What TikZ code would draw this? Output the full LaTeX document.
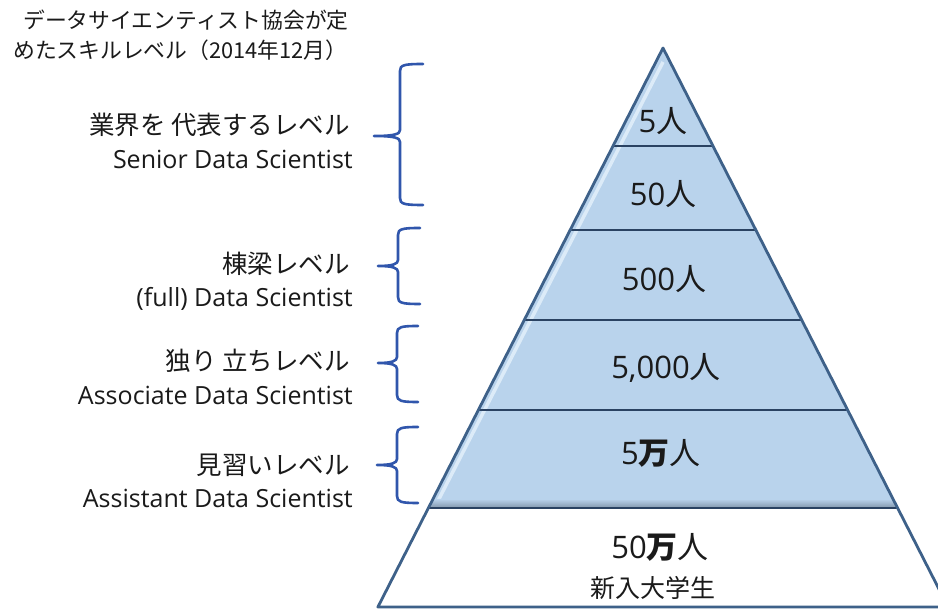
\documentclass[tikz,border=0pt]{standalone}
\usepackage{fontspec}
\setmainfont{Open Sans}
\newfontfamily\jp{Noto Sans CJK JP}
\usetikzlibrary{calc}
\definecolor{braceblue}{HTML}{3056AC}
\definecolor{pyrfill}{HTML}{B9D3EC}
\definecolor{pyrhi}{HTML}{DCEBF8}
\definecolor{pyrline}{HTML}{3E6189}
\definecolor{divline}{HTML}{2A4262}
\definecolor{pyrshade}{HTML}{8296AC}
\definecolor{txt}{HTML}{1A1A1A}
\tikzset{
  brace/.style={draw=braceblue, line width=2.6pt, line cap=round, line join=round},
  jplabel/.style={anchor=east, inner sep=0pt, text=txt, font=\jp\fontsize{25.5}{30}\selectfont},
  enlabel/.style={anchor=base east, inner sep=0pt, text=txt, font=\fontsize{25}{30}\selectfont},
  titletext/.style={anchor=west, inner sep=0pt, text=txt, font=\jp\fontsize{21.8}{26}\selectfont},
  count/.style={inner sep=0pt, text=txt, font=\fontsize{31}{36}\selectfont},
  sublabel/.style={inner sep=0pt, text=txt, font=\jp\fontsize{25}{30}\selectfont},
  pyredge/.style={draw=pyrline, line width=2.8pt, line join=round},
  divider/.style={draw=divline, line width=2.8pt},
}
\begin{document}
\begin{tikzpicture}[x=1pt,y=-1pt]
\clip (0,0) rectangle (938,609);
\fill[white] (0,0) rectangle (938,609);

% pyramid corner points
\coordinate (A)  at (663,48);
\coordinate (L1) at (613,146);   \coordinate (R1) at (713,146);
\coordinate (L2) at (570.2,230); \coordinate (R2) at (755.8,230);
\coordinate (L3) at (524.3,320); \coordinate (R3) at (801.7,320);
\coordinate (L4) at (478.4,410); \coordinate (R4) at (847.6,410);
\coordinate (L5) at (428.4,508); \coordinate (R5) at (897.6,508);
\coordinate (L6) at (377.9,607); \coordinate (R6) at (948.1,607);

% blue part
\fill[pyrfill] (A) -- (L5) -- (R5) -- cycle;
% bevel highlight along the left edge
\draw[pyrhi, line width=3.5pt] ($(A)+(0,14)$) -- ($(L5)+(9,-6)$);
% bottom shadow of the blue part
\shade[top color=pyrfill, bottom color=pyrshade] ($(L5)+(4,-9)$) -- ($(R5)+(-4,-9)$) -- (R5) -- (L5) -- cycle;
% white base
\fill[white] (L5) -- (L6) -- (R6) -- (R5) -- cycle;

% dividers
\draw[divider] (L1) -- (R1);
\draw[divider] (L2) -- (R2);
\draw[divider] (L3) -- (R3);
\draw[divider] (L4) -- (R4);
\draw[divider] (L5) -- (R5);
% outline
\draw[pyredge] (A) -- (L6) -- (R6) -- cycle;

% counts
\node[count] (c1) at (663,121) {5{\jp 人}};
\node[count] (c2) at (663,194) {50{\jp 人}};
\node[count] (c3) at (664,279) {500{\jp 人}};
\node[count] (c4) at (666,368) {5,000{\jp 人}};
\node[count] (c5) at (661,453) {5{\jp\bfseries 万}{\jp 人}};
\node[count] (c6) at (660,547) {50{\jp\bfseries 万}{\jp 人}};
\node[sublabel] (c7) at (653,588) {新入大学生};

% title
\node[titletext] (t1) at (23,20) {データサイエンティスト協会が定};
\node[titletext] (t2) at (13,50) {めたスキルレベル（2014年12月）};

% level labels
\node[jplabel] (j1) at (350,125) {業界を 代表するレベル};
\node[enlabel] (e1) at (353,169) {Senior Data Scientist};
\node[jplabel] (j2) at (350,264) {棟梁レベル};
\node[enlabel] (e2) at (353,307) {(full) Data Scientist};
\node[jplabel] (j3) at (350,361) {独り 立ちレベル};
\node[enlabel] (e3) at (353,405) {Associate Data Scientist};
\node[jplabel] (j4) at (350,465) {見習いレベル};
\node[enlabel] (e4) at (353,508) {Assistant Data Scientist};

% braces
\draw[brace] (423,64) .. controls (404,64) and (400,65) .. (400,71) -- (400,130)
  .. controls (400,134) and (395,136) .. (374,136)
  .. controls (395,136) and (400,138) .. (400,142) -- (400,198)
  .. controls (400,204) and (404,205) .. (423,205);
\draw[brace] (420,228) .. controls (402,228) and (398,229) .. (398,235) -- (398,260)
  .. controls (398,264) and (393,266) .. (378,266)
  .. controls (393,266) and (398,268) .. (398,272) -- (398,297)
  .. controls (398,303) and (402,304) .. (420,304);
\draw[brace] (418,326) .. controls (401,326) and (397,327) .. (397,333) -- (397,357)
  .. controls (397,361) and (392,363) .. (378,363)
  .. controls (392,363) and (397,365) .. (397,369) -- (397,395)
  .. controls (397,401) and (401,402) .. (418,402);
\draw[brace] (418,427) .. controls (401,427) and (397,428) .. (397,434) -- (397,459)
  .. controls (397,463) and (392,465) .. (377,465)
  .. controls (392,465) and (397,467) .. (397,471) -- (397,496)
  .. controls (397,502) and (401,503) .. (418,503);
\end{tikzpicture}
\end{document}
